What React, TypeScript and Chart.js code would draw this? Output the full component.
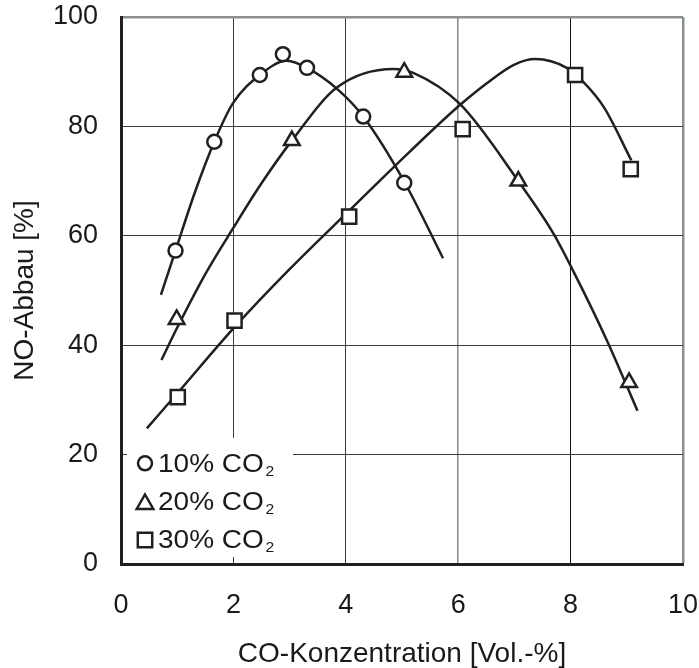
import React, { useEffect, useRef } from 'react';
import { Chart, registerables } from 'chart.js';

Chart.register(...registerables);

// Axis ranges / ticks
const xMin = 0;
const xMax = 10;
const xStep = 2;
const yMin = 0;
const yMax = 100;
const yStep = 20;

// Measured NO conversion (%) vs. CO concentration (Vol.-%)
const co2_10_x = [0.97, 1.66, 2.47, 2.88, 3.31, 4.31, 5.04];
const co2_10_y = [57.3, 77.2, 89.4, 93.2, 90.7, 81.8, 69.7];

const co2_20_x = [0.99, 3.04, 5.04, 7.07, 9.04];
const co2_20_y = [44.7, 77.4, 89.9, 70.0, 33.2];

const co2_30_x = [1.01, 2.02, 4.06, 6.08, 8.08, 9.07];
const co2_30_y = [30.5, 44.5, 63.5, 79.5, 89.4, 72.2];

// Trend curves through each series
const fit10_x = [0.71, 0.97, 1.32, 1.66, 1.99, 2.47, 2.95, 3.31, 3.84, 4.31, 5.05, 5.73];
const fit10_y = [49.2, 57.3, 68.1, 77.2, 84.2, 89.4, 92.0, 90.7, 86.9, 81.8, 69.7, 55.9];

const fit20_x = [0.72, 0.99, 1.5, 1.99, 2.5, 3.04, 3.84, 4.85, 5.2, 6.03, 7.07, 7.69, 8.05, 8.64, 9.19];
const fit20_y = [37.3, 43.0, 53.0, 61.3, 69.6, 77.4, 87.1, 90.5, 89.8, 84.1, 70.0, 60.5, 53.5, 41.0, 28.0];

const fit30_x = [0.46, 1.01, 2.02, 3.0, 4.06, 5.14, 6.03, 6.51, 7.0, 7.37, 7.93, 8.23, 8.6, 9.08];
const fit30_y = [24.8, 31.3, 43.3, 53.9, 64.6, 75.4, 83.9, 87.9, 91.3, 92.3, 90.7, 88.1, 83.4, 73.8];

const legendLabels = ['10% CO', '20% CO', '30% CO'];
const legendSubscript = '2';
const legendMarkers = ['circle', 'triangle', 'rect'];

const xTitle = 'CO-Konzentration [Vol.-%]';
const yTitle = 'NO-Abbau [%]';

const INK = '#231f20';
const TEXT = '#1a1a1a';
const FRAME_GRAY = '#8b9193';
const FONT = '"Liberation Sans", Arial, Helvetica, sans-serif';

const toPoints = (xs: number[], ys: number[]) => xs.map((x, i) => ({ x, y: ys[i] }));

function drawMarker(ctx: CanvasRenderingContext2D, kind: string, cx: number, cy: number) {
  ctx.beginPath();
  if (kind === 'circle') {
    ctx.arc(cx, cy, 7, 0, Math.PI * 2);
  } else if (kind === 'triangle') {
    ctx.moveTo(cx, cy - 8);
    ctx.lineTo(cx + 8.3, cy + 6.5);
    ctx.lineTo(cx - 8.3, cy + 6.5);
    ctx.closePath();
  } else {
    ctx.rect(cx - 7.2, cy - 7.2, 14.4, 14.4);
  }
  ctx.fillStyle = '#ffffff';
  ctx.fill();
  ctx.lineWidth = 2.5;
  ctx.strokeStyle = INK;
  ctx.stroke();
}

// Legend box sitting inside the plot area, bottom-left corner
const insetLegend = {
  id: 'insetLegend',
  beforeDatasetsDraw(chart: any) {
    const { ctx, chartArea } = chart;
    const left = chartArea.left;
    const bottom = chartArea.bottom;
    ctx.save();
    ctx.fillStyle = '#ffffff';
    ctx.fillRect(left + 6, bottom - 126, 166, 119);

    const markerY = [-100.7, -61.5, -24];
    const baseY = [-92.3, -54, -15.7];
    const stretch = 1.12;
    legendLabels.forEach((label, i) => {
      drawMarker(ctx, legendMarkers[i], left + 24, bottom + markerY[i]);
      const tx = left + 37;
      const ty = bottom + baseY[i];
      ctx.save();
      ctx.translate(tx, ty);
      ctx.scale(stretch, 1);
      ctx.fillStyle = TEXT;
      ctx.textBaseline = 'alphabetic';
      ctx.textAlign = 'left';
      ctx.font = `25px ${FONT}`;
      ctx.fillText(label, 0, 0);
      const w = ctx.measureText(label).width;
      ctx.font = `14px ${FONT}`;
      ctx.fillText(legendSubscript, w + 1.5, 4);
      ctx.restore();
    });
    ctx.restore();
  },
};

function gridStyleX(value: number) {
  if (value === xMax) return { color: FRAME_GRAY, width: 2.5 };
  if (value === 6) return { color: '#8a8a8a', width: 1.5 };
  if (value === 8) return { color: '#111111', width: 1 };
  return { color: '#3c3c3c', width: 1 };
}

function gridStyleY(value: number) {
  if (value === yMax) return { color: FRAME_GRAY, width: 2.5 };
  return { color: '#3c3c3c', width: 1 };
}

// Fixed axis box sizes; label overhang is absorbed by the layout padding
function fixScale(size: { width?: number; height?: number }) {
  return (scale: any) => {
    if (size.width !== undefined) scale.width = size.width;
    if (size.height !== undefined) scale.height = size.height;
    scale.paddingTop = 0;
    scale.paddingBottom = 0;
    scale.paddingLeft = 0;
    scale.paddingRight = 0;
  };
}

export default function App() {
  const canvasRef = useRef<HTMLCanvasElement | null>(null);

  useEffect(() => {
    document.body.style.margin = '0';
    const canvas = canvasRef.current;
    if (!canvas) return;

    const markerBase = {
      type: 'line' as const,
      showLine: false,
      pointBackgroundColor: '#ffffff',
      pointBorderColor: INK,
      pointBorderWidth: 2.5,
      order: 0,
    };
    const curveBase = {
      type: 'line' as const,
      showLine: true,
      pointRadius: 0,
      borderColor: INK,
      borderWidth: 2.5,
      cubicInterpolationMode: 'monotone' as const,
      fill: false,
      order: 1,
    };

    const chart = new Chart(canvas, {
      type: 'line',
      data: {
        datasets: [
          { ...markerBase, label: '10% CO2', data: toPoints(co2_10_x, co2_10_y), pointStyle: 'circle', pointRadius: 7 },
          { ...markerBase, label: '20% CO2', data: toPoints(co2_20_x, co2_20_y), pointStyle: 'triangle', pointRadius: 9 },
          { ...markerBase, label: '30% CO2', data: toPoints(co2_30_x, co2_30_y), pointStyle: 'rect', pointRadius: 10 },
          { ...curveBase, label: 'fit 10', data: toPoints(fit10_x, fit10_y) },
          { ...curveBase, label: 'fit 20', data: toPoints(fit20_x, fit20_y) },
          { ...curveBase, label: 'fit 30', data: toPoints(fit30_x, fit30_y) },
        ],
      },
      options: {
        responsive: false,
        animation: false,
        devicePixelRatio: 1,
        layout: { padding: { top: 17, right: 16, left: 0, bottom: 0 } },
        plugins: {
          legend: { display: false },
          tooltip: { enabled: false },
        },
        scales: {
          x: {
            type: 'linear',
            min: xMin,
            max: xMax,
            afterFit: fixScale({ height: 104 }),
            ticks: {
              stepSize: xStep,
              color: TEXT,
              padding: 25,
              maxRotation: 0,
              font: { family: FONT, size: 27 },
            },
            grid: {
              drawTicks: false,
              color: (c: any) => gridStyleX(c.tick?.value).color,
              lineWidth: (c: any) => gridStyleX(c.tick?.value).width,
            },
            border: { color: INK, width: 3 },
            title: {
              display: true,
              text: xTitle,
              color: TEXT,
              font: { family: FONT, size: 28 },
              padding: { top: 0, bottom: -3 },
            },
          },
          y: {
            type: 'linear',
            min: yMin,
            max: yMax,
            afterFit: fixScale({ width: 121 }),
            ticks: {
              stepSize: yStep,
              color: TEXT,
              padding: 23,
              font: { family: FONT, size: 27 },
            },
            grid: {
              drawTicks: false,
              color: (c: any) => gridStyleY(c.tick?.value).color,
              lineWidth: (c: any) => gridStyleY(c.tick?.value).width,
            },
            border: { color: INK, width: 3 },
            title: {
              display: true,
              text: yTitle,
              color: TEXT,
              font: { family: FONT, size: 28 },
              padding: { top: 8, bottom: 0 },
            },
          },
        },
      },
      plugins: [insetLegend],
    });

    return () => chart.destroy();
  }, []);

  return (
    <div style={{ width: 699, height: 668 }}>
      <canvas ref={canvasRef} width={699} height={668} />
    </div>
  );
}
